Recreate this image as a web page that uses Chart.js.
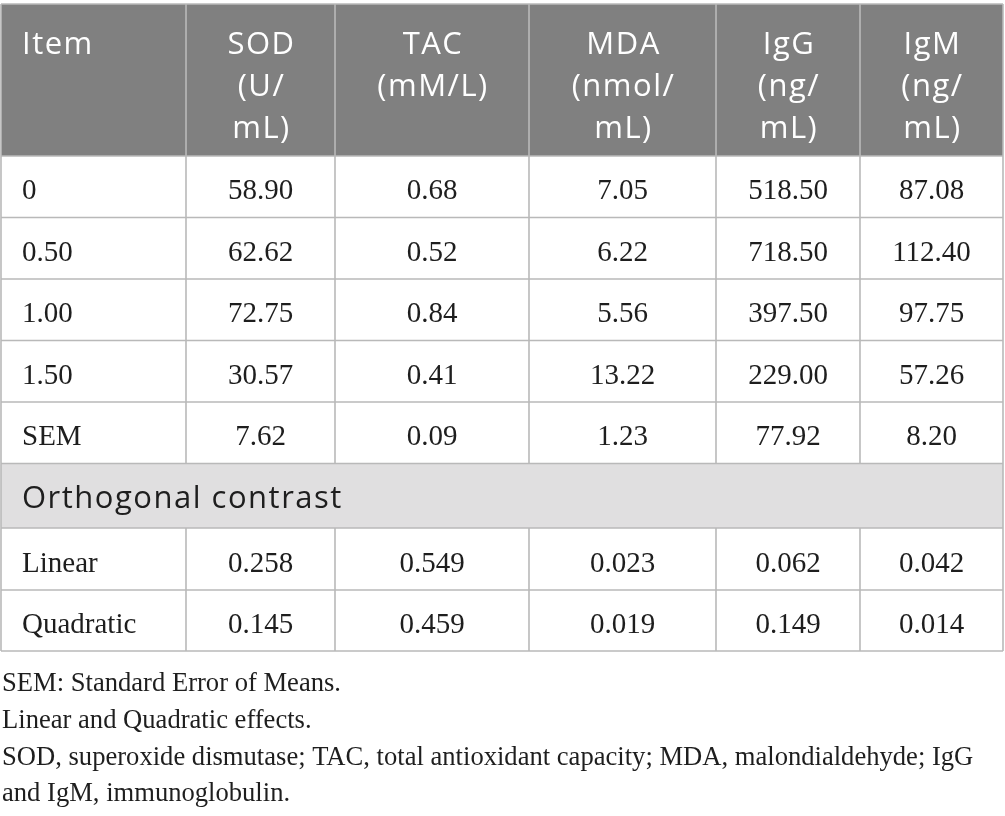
<!DOCTYPE html>
<html><head><meta charset="utf-8">
<script src="https://cdn.jsdelivr.net/npm/chart.js@4.4.1/dist/chart.umd.min.js"></script>
<style>html,body{margin:0;padding:0;background:#fff;overflow:hidden}#wrap{width:1005px;height:816px;position:relative}</style>
</head><body><div id="wrap"><canvas id="c"></canvas></div>
<script>
// ---------- data ----------
const headerLines = [['Item'], ['SOD', '(U/', 'mL)'], ['TAC', '(mM/L)'], ['MDA', '(nmol/', 'mL)'], ['IgG', '(ng/', 'mL)'], ['IgM', '(ng/', 'mL)']];
const items = ['0', '0.50', '1.00', '1.50', 'SEM'];
const SOD = [58.90, 62.62, 72.75, 30.57, 7.62];
const TAC = [0.68, 0.52, 0.84, 0.41, 0.09];
const MDA = [7.05, 6.22, 5.56, 13.22, 1.23];
const IgG = [518.50, 718.50, 397.50, 229.00, 77.92];
const IgM = [87.08, 112.40, 97.75, 57.26, 8.20];
const contrastTitle = 'Orthogonal contrast';
const contrastItems = ['Linear', 'Quadratic'];
const SOD_p = [0.258, 0.145];
const TAC_p = [0.549, 0.459];
const MDA_p = [0.023, 0.019];
const IgG_p = [0.062, 0.149];
const IgM_p = [0.042, 0.014];
const footnotes = [
  'SEM: Standard Error of Means.',
  'Linear and Quadratic effects.',
  'SOD, superoxide dismutase; TAC, total antioxidant capacity; MDA, malondialdehyde; IgG',
  'and IgM, immunoglobulin.'
];

// ---------- layout ----------
const W = 1005, H = 816;
const tableLeft = 1, tableTop = 4;
const colWidths = [185, 149, 194, 187, 144, 143];
const rowHeights = [152, 61.5, 61.5, 61.5, 61.5, 61.5, 64.5, 62, 61];
const cellPad = 21;
const footLeft = 2;
const footBaselines = [691, 728, 764.5, 801];
const headerBaseline = 49.5, headerLineStep = 42;
const bodyBaselineShift = 12.5;
const headerBg = '#808080', groupBg = '#e0dfe0', lineColor = '#b9b9b9';
const headFont = '31px "Open Sans"', headSpacing = '1.5px';
const bodyFont = '29px "Liberation Serif"', footFont = '26.6px "Liberation Serif"';
const textColor = '#1e1e1e';

const colEdges = [tableLeft];
colWidths.forEach(w => colEdges.push(colEdges[colEdges.length - 1] + w));
const rowEdges = [tableTop];
rowHeights.forEach(h => rowEdges.push(rowEdges[rowEdges.length - 1] + h));
const mid = (e, i) => (e[i] + e[i + 1]) / 2;
const GROUP_ROW = 6;

const measureCols = [[SOD, SOD_p], [TAC, TAC_p], [MDA, MDA_p], [IgG, IgG_p], [IgM, IgM_p]];

const datasets = [];
// item label column
{
  const pts = [], texts = [];
  items.forEach((t, i) => { pts.push({ x: mid(colEdges, 0), y: mid(rowEdges, 1 + i) }); texts.push(t); });
  contrastItems.forEach((t, i) => { pts.push({ x: mid(colEdges, 0), y: mid(rowEdges, 7 + i) }); texts.push(t); });
  datasets.push({ label: 'Item', data: pts, texts, col: 0, align: 'left' });
}
measureCols.forEach(([means, ps], k) => {
  const pts = [], texts = [];
  means.forEach((v, i) => { pts.push({ x: mid(colEdges, k + 1), y: mid(rowEdges, 1 + i) }); texts.push(v.toFixed(2)); });
  ps.forEach((v, i) => { pts.push({ x: mid(colEdges, k + 1), y: mid(rowEdges, 7 + i) }); texts.push(v.toFixed(3)); });
  datasets.push({ label: headerLines[k + 1].join(' '), data: pts, texts, col: k + 1, align: 'center' });
});
datasets.forEach(d => { d.pointRadius = 0; d.pointHoverRadius = 0; d.showLine = false; });

const tablePlugin = {
  id: 'table',
  beforeDatasetsDraw(chart) {
    const { ctx, scales: { x, y } } = chart;
    const X = v => x.getPixelForValue(v), Y = v => y.getPixelForValue(v);
    ctx.save();
    ctx.fillStyle = '#fff';
    ctx.fillRect(0, 0, chart.width, chart.height);
    const L = X(colEdges[0]), R = X(colEdges[colEdges.length - 1]);
    ctx.fillStyle = headerBg;
    ctx.fillRect(L, Y(rowEdges[0]), R - L, Y(rowEdges[1]) - Y(rowEdges[0]));
    ctx.fillStyle = groupBg;
    ctx.fillRect(L, Y(rowEdges[GROUP_ROW]), R - L, Y(rowEdges[GROUP_ROW + 1]) - Y(rowEdges[GROUP_ROW]));
    ctx.strokeStyle = lineColor;
    ctx.lineWidth = 1.6;
    ctx.beginPath();
    rowEdges.forEach(r => { ctx.moveTo(L, Y(r)); ctx.lineTo(R, Y(r)); });
    for (let ri = 0; ri < rowHeights.length; ri++) {
      colEdges.forEach((c, ci) => {
        if (ri === GROUP_ROW && ci > 0 && ci < colEdges.length - 1) return;
        ctx.moveTo(X(c), Y(rowEdges[ri])); ctx.lineTo(X(c), Y(rowEdges[ri + 1]));
      });
    }
    ctx.stroke();
    ctx.restore();
  },
  afterDatasetsDraw(chart) {
    const { ctx, scales: { x, y } } = chart;
    const X = v => x.getPixelForValue(v), Y = v => y.getPixelForValue(v);
    ctx.save();
    // header
    ctx.fillStyle = '#fff';
    ctx.font = headFont;
    ctx.letterSpacing = headSpacing;
    ctx.textBaseline = 'alphabetic';
    headerLines.forEach((lines, ci) => {
      lines.forEach((t, li) => {
        const yy = Y(rowEdges[0] + headerBaseline + li * headerLineStep);
        if (ci === 0) { ctx.textAlign = 'left'; ctx.fillText(t, X(colEdges[0] + cellPad), yy); }
        else { ctx.textAlign = 'center'; ctx.fillText(t, X(mid(colEdges, ci)) + 1, yy); }
      });
    });
    // group row label
    ctx.fillStyle = textColor;
    ctx.textAlign = 'left';
    ctx.fillText(contrastTitle, X(colEdges[0] + cellPad), Y(mid(rowEdges, GROUP_ROW)) + bodyBaselineShift);
    ctx.letterSpacing = '0px';
    // body cells from dataset elements
    ctx.font = bodyFont;
    chart.data.datasets.forEach((ds, di) => {
      const meta = chart.getDatasetMeta(di);
      meta.data.forEach((el, j) => {
        const t = ds.texts[j];
        if (ds.align === 'left') { ctx.textAlign = 'left'; ctx.fillText(t, X(colEdges[ds.col] + cellPad), el.y + bodyBaselineShift); }
        else { ctx.textAlign = 'center'; ctx.fillText(t, el.x, el.y + bodyBaselineShift); }
      });
    });
    // footnotes
    ctx.font = footFont;
    ctx.textAlign = 'left';
    footnotes.forEach((t, i) => ctx.fillText(t, X(footLeft), Y(footBaselines[i])));
    ctx.restore();
  }
};

new Chart(document.getElementById('c'), {
  type: 'scatter',
  data: { datasets },
  options: {
    responsive: true,
    maintainAspectRatio: false,
    animation: false,
    events: [],
    layout: { padding: 0 },
    plugins: { legend: { display: false }, tooltip: { enabled: false } },
    scales: {
      x: { type: 'linear', min: 0, max: W, display: false },
      y: { type: 'linear', min: 0, max: H, reverse: true, display: false }
    }
  },
  plugins: [tablePlugin]
});
</script>
</body></html>
